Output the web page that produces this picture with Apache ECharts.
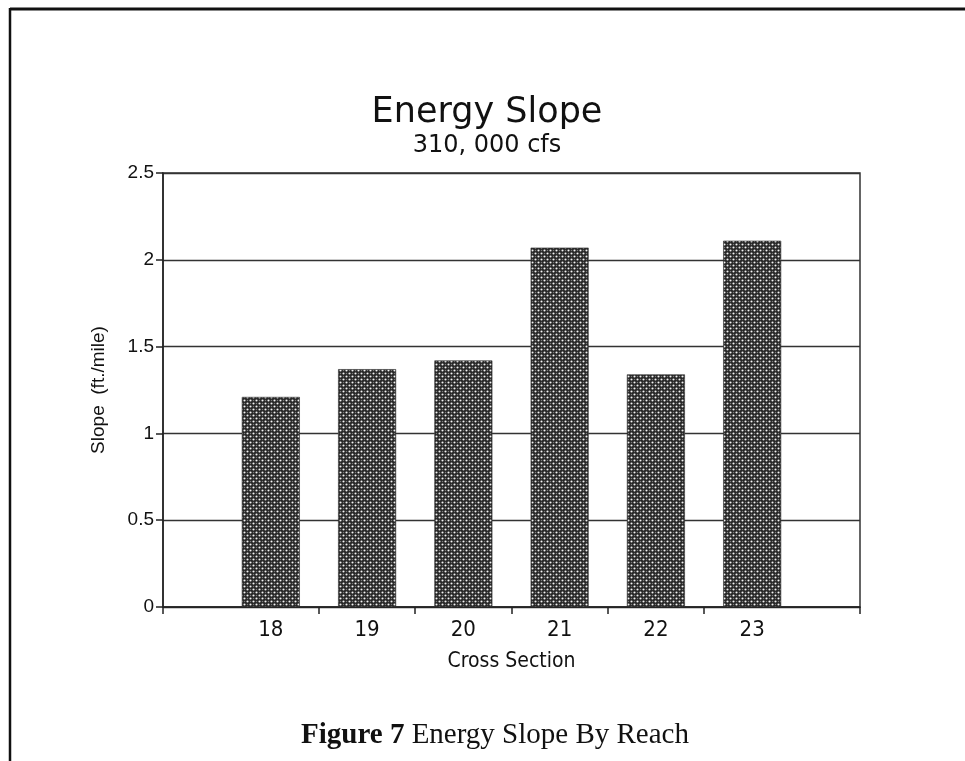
<!DOCTYPE html>
<html>
<head>
<meta charset="utf-8">
<script src="https://cdn.jsdelivr.net/npm/echarts@6/dist/echarts.min.js"></script>
<style>
  html, body { margin: 0; padding: 0; background: #fff; }
  #chart { width: 965px; height: 761px; }
</style>
</head>
<body>
<div id="chart"></div>
<script>
// Cross sections along the reach and the energy slope at each (ft./mile)
const crossSections = [18, 19, 20, 21, 22, 23];
const slopeValues = [1.21, 1.37, 1.42, 2.07, 1.34, 2.11];
const yTicks = [0, 0.5, 1, 1.5, 2, 2.5];
const xTickMarks = [16.88, 18.5, 19.5, 20.5, 21.5, 22.5, 24.12];

// Cross-hatched fill used for the bars
function hatchTile() {
  const c = document.createElement('canvas');
  c.width = 6; c.height = 6;
  const g = c.getContext('2d');
  g.fillStyle = '#262626';
  g.fillRect(0, 0, 6, 6);
  g.fillStyle = '#f4f4f4';
  [[1.5, 1.5], [4.5, 4.5]].forEach(([x, y]) => {
    g.beginPath(); g.arc(x, y, 1.05, 0, Math.PI * 2); g.fill();
  });
  g.fillStyle = '#7a7a7a';
  [[4.5, 1.5], [1.5, 4.5]].forEach(([x, y]) => {
    g.beginPath(); g.arc(x, y, 0.75, 0, Math.PI * 2); g.fill();
  });
  return c;
}

const chart = echarts.init(document.getElementById('chart'), null, { renderer: 'canvas' });

const condensed = '"Liberation Sans Narrow", "DejaVu Sans Condensed", "Liberation Sans", sans-serif';
const sans = '"Liberation Sans", Arial, sans-serif';
const serif = '"Liberation Serif", "Times New Roman", serif';

chart.setOption({
  backgroundColor: '#ffffff',
  animation: false,
  title: [
    {
      text: 'Energy Slope',
      left: 482, top: 90, textAlign: 'center',
      textStyle: { fontFamily: '"DejaVu Sans", sans-serif', fontWeight: 'normal', fontSize: 35, color: '#111' }
    },
    {
      text: '310, 000 cfs',
      left: 482, top: 129, textAlign: 'center',
      textStyle: { fontFamily: '"DejaVu Sans", sans-serif', fontWeight: 'normal', fontSize: 24, color: '#111' }
    }
  ],
  grid: {
    left: 163, right: 105, top: 173, bottom: 154,
    show: true, borderColor: '#333', borderWidth: 1.5, backgroundColor: 'transparent'
  },
  xAxis: {
    type: 'value',
    min: 16.88, max: 24.12,
    name: 'Cross Section',
    nameLocation: 'middle', nameGap: 44,
    nameTextStyle: { fontFamily: condensed, fontSize: 21, color: '#111' },
    axisLine: { show: true, lineStyle: { color: '#222', width: 1.5 } },
    axisTick: { show: true, length: 7, inside: false, customValues: xTickMarks, lineStyle: { color: '#222', width: 1.5 } },
    axisLabel: { customValues: crossSections, margin: 12, fontFamily: condensed, fontSize: 22, color: '#111' },
    splitLine: { show: false }
  },
  yAxis: {
    type: 'value',
    min: 0, max: 2.5, interval: 0.5,
    name: 'Slope  (ft./mile)',
    nameLocation: 'middle', nameGap: 55, nameRotate: 90,
    nameTextStyle: { fontFamily: sans, fontSize: 19, color: '#111' },
    axisLine: { show: true, lineStyle: { color: '#222', width: 1.5 } },
    axisTick: { show: true, length: 7, inside: false, lineStyle: { color: '#222', width: 1.5 } },
    axisLabel: {
      margin: 9, fontFamily: sans, fontSize: 19, color: '#111',
      formatter: v => String(v)
    },
    splitLine: { show: true, lineStyle: { color: '#333', width: 1.3 } }
  },
  series: [{
    type: 'bar',
    barWidth: 58,
    data: crossSections.map((c, i) => [c, slopeValues[i]]),
    itemStyle: {
      color: { image: hatchTile(), repeat: 'repeat' },
      borderColor: '#333', borderWidth: 0.6
    },
    z: 3
  }],
  graphic: [
    { type: 'line', shape: { x1: 10, y1: 9, x2: 965, y2: 9 }, style: { stroke: '#111', lineWidth: 3 } },
    { type: 'line', shape: { x1: 10, y1: 8, x2: 10, y2: 761 }, style: { stroke: '#111', lineWidth: 2.5 } },
    {
      type: 'text', x: 495, y: 721,
      style: {
        align: 'center', verticalAlign: 'top',
        rich: {
          b: { fontFamily: serif, fontWeight: 'bold', fontSize: 29, fill: '#111' },
          n: { fontFamily: serif, fontSize: 29, fill: '#111' }
        },
        text: '{b|Figure 7}{n| Energy Slope By Reach}'
      }
    }
  ]
});
</script>
</body>
</html>
